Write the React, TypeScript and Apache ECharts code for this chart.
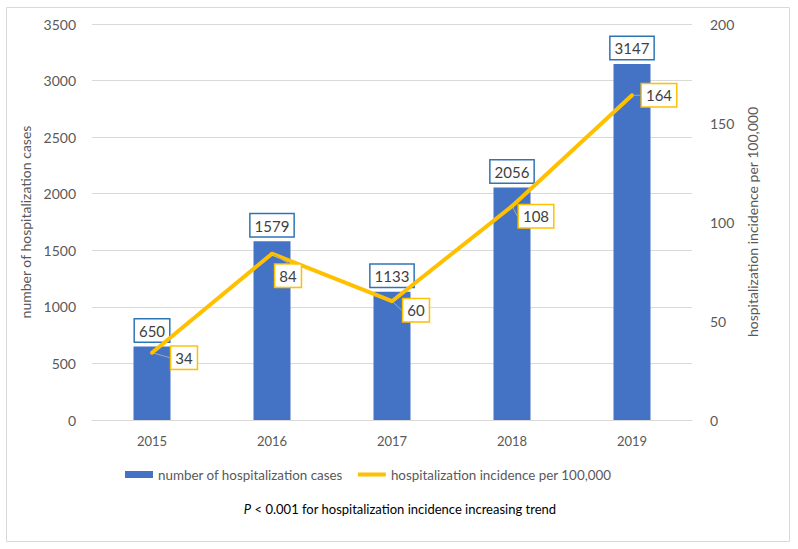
import React, { useEffect, useRef } from "react";
import * as echarts from "echarts";

const years = ["2015", "2016", "2017", "2018", "2019"];
const cases = [650, 1579, 1133, 2056, 3147];
const incidence = [34, 84, 60, 108, 164];
const leftTicks = { min: 0, max: 3500, interval: 500 };
const rightTicks = { min: 0, max: 200, interval: 50 };
const caseName = "number of hospitalization cases";
const incName = "hospitalization incidence per 100,000";
const noteText = "P < 0.001 for hospitalization incidence increasing trend";

// label offsets (styling) for the incidence labels
const incLabelOffsets: [number, number][] = [
  [32, 5],
  [16, 22],
  [24, 9],
  [24, 10],
  [27, 0],
];

const FONT = "Lato, 'Open Sans', sans-serif";
const GREY = "#595959";

export default function App() {
  const ref = useRef<HTMLDivElement>(null);
  useEffect(() => {
    document.body.style.margin = "0";
    const chart = echarts.init(ref.current!, null, { renderer: "svg" });
    chart.setOption({
      animation: false,
      textStyle: { fontFamily: FONT },
      grid: { left: 92, right: 106, top: 24, bottom: 129 },
      legend: {
        left: 120,
        top: 463,
        itemWidth: 28,
        itemHeight: 7,
        itemGap: 15,
        textStyle: { fontSize: 13.4, color: GREY, fontFamily: FONT },
        data: [
          { name: caseName, icon: "rect" },
          { name: incName, icon: "path://M0,0H28V4H0Z" },
        ],
      },
      xAxis: {
        type: "category",
        data: years,
        axisLine: { lineStyle: { color: "#d9d9d9" } },
        axisTick: { show: false },
        axisLabel: { color: GREY, fontSize: 13, margin: 14, fontFamily: FONT },
      },
      yAxis: [
        {
          type: "value",
          ...leftTicks,
          name: caseName,
          nameLocation: "middle",
          nameGap: 47,
          nameTextStyle: { color: GREY, fontSize: 14, fontFamily: FONT },
          axisLabel: {
            color: GREY,
            fontSize: 14,
            margin: 16,
            fontFamily: FONT,
            formatter: (v: number) => String(v),
          },
          splitLine: { lineStyle: { color: "#d9d9d9" } },
          axisLine: { show: false },
          axisTick: { show: false },
        },
        {
          type: "value",
          ...rightTicks,
          name: incName,
          nameLocation: "middle",
          nameGap: 50,
          nameTextStyle: { color: GREY, fontSize: 14, fontFamily: FONT },
          axisLabel: {
            color: GREY,
            fontSize: 14,
            margin: 18,
            fontFamily: FONT,
            formatter: (v: number) => String(v),
          },
          splitLine: { show: false },
          axisLine: { show: false },
          axisTick: { show: false },
        },
      ],
      series: [
        {
          name: caseName,
          type: "bar",
          data: cases,
          barWidth: 37,
          itemStyle: { color: "#4472C4" },
          label: {
            show: true,
            position: "top",
            distance: 5,
            color: "#404040",
            fontSize: 15,
            fontFamily: FONT,
            backgroundColor: "#fff",
            borderColor: "#2E75B6",
            borderWidth: 1.5,
            padding: [4, 4, 3, 4],
          },
        },
        {
          name: incName,
          type: "line",
          yAxisIndex: 1,
          data: incidence,
          symbol: "circle",
          symbolSize: 4,
          itemStyle: { color: "#FFC000" },
          lineStyle: { color: "#FFC000", width: 4 },
          label: {
            show: true,
            position: "inside",
            color: "#404040",
            fontSize: 15,
            fontFamily: FONT,
            backgroundColor: "#fff",
            borderColor: "#FFC000",
            borderWidth: 1.5,
            padding: [4, 4, 3, 4],
          },
          labelLine: { show: true, lineStyle: { color: "#a6a6a6", width: 1 } },
          labelLayout: (p: any) => {
            const o = incLabelOffsets[p.dataIndex] || [0, 0];
            return { dx: o[0], dy: o[1] };
          },
          z: 3,
        },
      ],
      graphic: [
        {
          type: "rect",
          shape: { x: 6.5, y: 7.5, width: 783, height: 534 },
          style: { fill: "none", stroke: "#d9d9d9", lineWidth: 1 },
          silent: true,
        },
        {
          type: "text",
          x: 400,
          y: 509,
          style: {
            text: "{i|P} < 0.001 for hospitalization incidence increasing trend",
            rich: {
              i: { fontStyle: "italic", fontSize: 13, fill: "#000", fontFamily: FONT },
            },
            fontSize: 13,
            fill: "#000",
            fontFamily: FONT,
            align: "center",
            verticalAlign: "middle",
          },
        },
      ],
    });
    return () => chart.dispose();
  }, []);
  return <div ref={ref} style={{ width: 798, height: 549 }} aria-label={noteText} />;
}
